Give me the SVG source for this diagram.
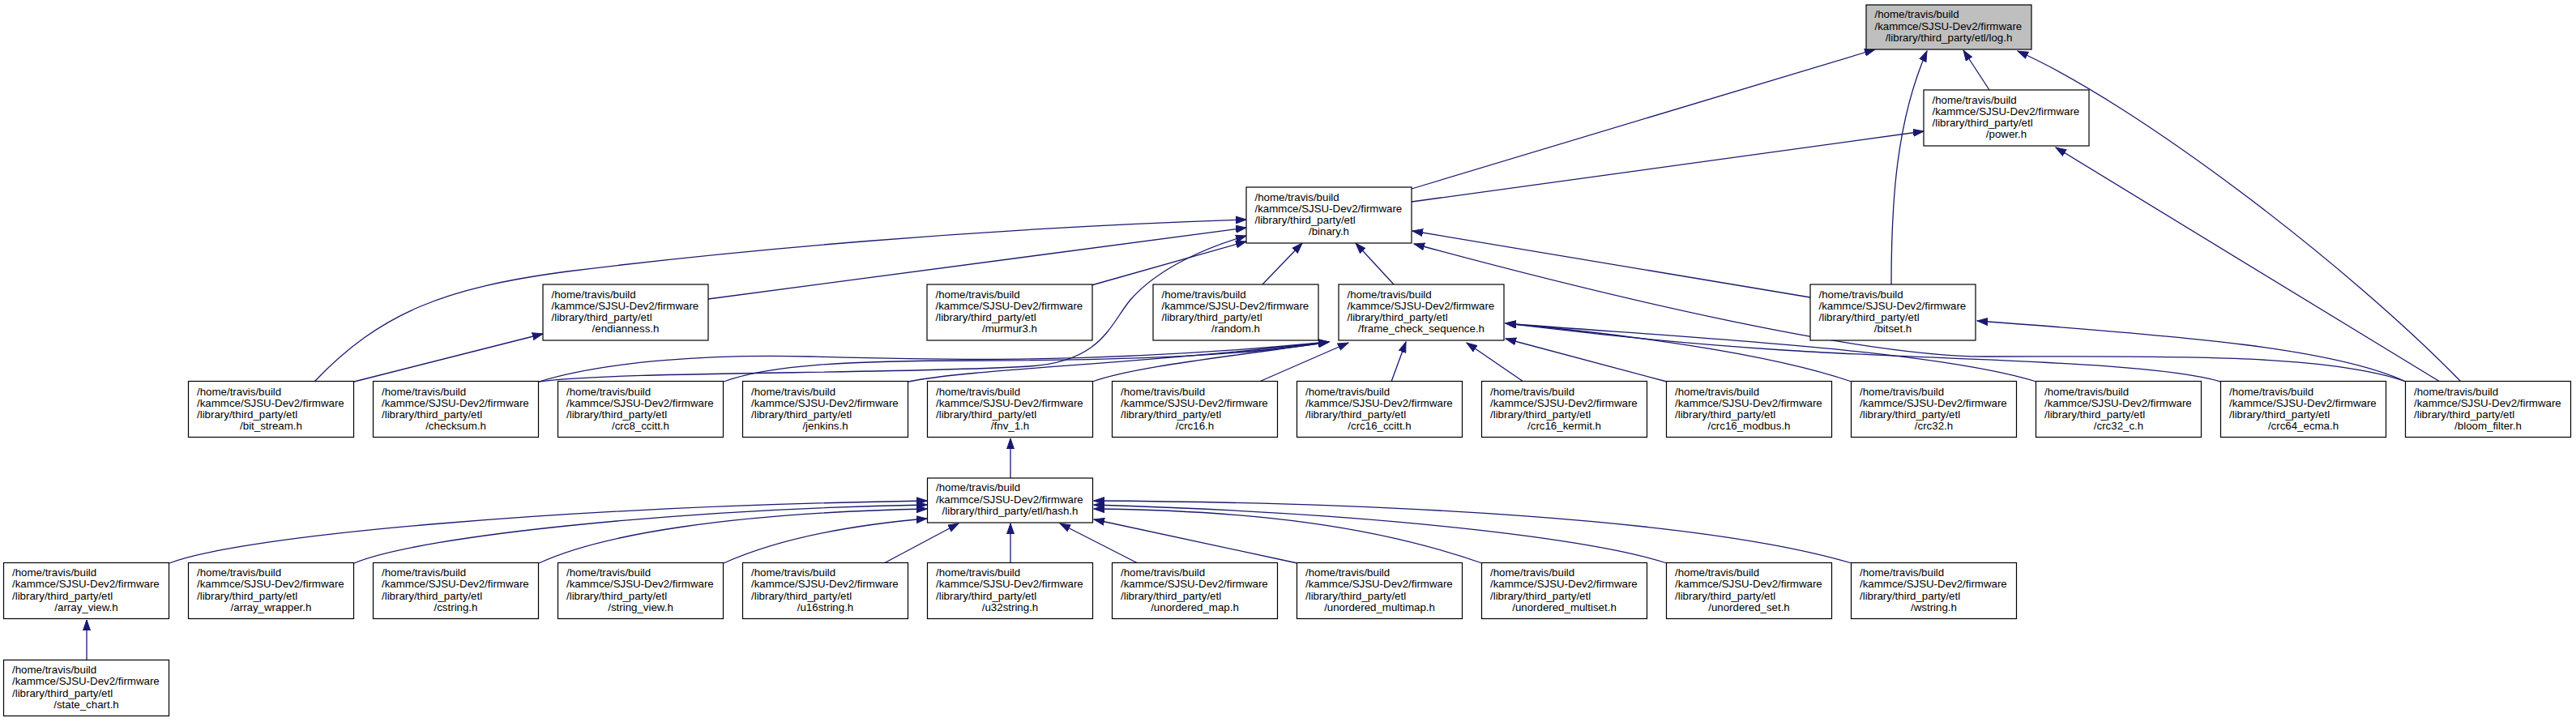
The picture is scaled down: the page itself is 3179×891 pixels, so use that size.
<svg xmlns="http://www.w3.org/2000/svg" width="3179" height="891" viewBox="0 0 3179 891">
<style>
.node rect{fill:#fff;stroke:#000;stroke-width:1.2}
.node.root rect{fill:#bfbfbf}
.node text{font-family:"Liberation Sans",Arial,Helvetica,sans-serif;font-size:13.3px;fill:#000}
.node text.c{text-anchor:middle}
.edge{fill:none;stroke:#191970;stroke-width:1.3;marker-end:url(#arr)}
</style>
<defs>
<marker id="arr" markerWidth="14" markerHeight="10" refX="13" refY="5" orient="auto" markerUnits="userSpaceOnUse"><path d="M0,0.5 L13,5 L0,9.5 Z" fill="#191970" stroke="#191970" stroke-width="1"/></marker>
</defs>
<rect width="3179" height="891" fill="#fff"/>
<g id="edges">
<path class="edge" d="M1742,233 L2314,61"/>
<path class="edge" d="M2455,111 L2423,62"/>
<path class="edge" d="M2334,351 C2334,250 2340,150 2378,63"/>
<path class="edge" d="M3037,471 C2900,330 2640,130 2490,63"/>
<path class="edge" d="M3011,471 L2537,182"/>
<path class="edge" d="M1742,249 L2374,162"/>
<path class="edge" d="M2234,367 L1743,285"/>
<path class="edge" d="M2969,471 C2870,435 2650,440 2450,440 C2300,440 2000,370 1745,301"/>
<path class="edge" d="M2969,471 C2880,430 2700,415 2440,396"/>
<path class="edge" d="M1558,351 L1607,300"/>
<path class="edge" d="M1720,351 L1673,300"/>
<path class="edge" d="M388,471 C470,385 550,355 700,335 C900,310 1200,282 1538,271"/>
<path class="edge" d="M437,471 L670,412"/>
<path class="edge" d="M874,369 L1538,281"/>
<path class="edge" d="M1347,352 L1538,298"/>
<path class="edge" d="M665,471 C760,458 1100,462 1271,452 C1360,446 1370,400 1395,370 C1430,330 1490,305 1538,291"/>
<path class="edge" d="M665,471 C750,445 880,437 1000,440 C1150,444 1350,450 1640,422"/>
<path class="edge" d="M893,471 C950,450 1050,445 1200,445 C1400,445 1550,437 1640,422"/>
<path class="edge" d="M1121,471 C1200,455 1400,450 1640,422"/>
<path class="edge" d="M1348,471 C1400,452 1520,440 1640,422"/>
<path class="edge" d="M1554,471 L1664,423"/>
<path class="edge" d="M1717,471 L1735,422"/>
<path class="edge" d="M1880,471 L1810,423"/>
<path class="edge" d="M2057,471 L1858,418"/>
<path class="edge" d="M2285,471 C2180,435 2000,412 1858,399"/>
<path class="edge" d="M2513,471 C2380,430 2050,415 1858,399"/>
<path class="edge" d="M2741,471 C2650,445 2400,445 2200,432 C2050,422 1950,410 1858,399"/>
<path class="edge" d="M1247,590 L1247,541"/>
<path class="edge" d="M107,814 L107,765"/>
<path class="edge" d="M209,695 C300,660 700,625 1144,618"/>
<path class="edge" d="M437,695 C520,660 850,628 1144,623"/>
<path class="edge" d="M665,695 C740,660 900,633 1144,628"/>
<path class="edge" d="M893,695 C960,665 1050,648 1144,640"/>
<path class="edge" d="M1091,695 L1183,646"/>
<path class="edge" d="M1247,695 L1247,646"/>
<path class="edge" d="M1404,695 L1308,646"/>
<path class="edge" d="M1601,695 L1350,641"/>
<path class="edge" d="M1829,695 C1700,650 1550,630 1350,628"/>
<path class="edge" d="M2057,695 C1980,670 1750,635 1350,623"/>
<path class="edge" d="M2285,695 C2100,640 1700,620 1350,618"/>
</g>
<g id="n_log" class="node root"><rect x="2303" y="6" width="204" height="55"/><text x="2313.5" y="22">/home/travis/build</text><text x="2313.5" y="36.5">/kammce/SJSU-Dev2/firmware</text><text class="c" x="2405" y="51">/library/third_party/etl/log.h</text></g>
<g id="n_power" class="node"><rect x="2374" y="111" width="204" height="69"/><text x="2384.5" y="127.5">/home/travis/build</text><text x="2384.5" y="141.8">/kammce/SJSU-Dev2/firmware</text><text x="2384.5" y="156.1">/library/third_party/etl</text><text class="c" x="2476" y="170.4">/power.h</text></g>
<g id="n_binary" class="node"><rect x="1538" y="231" width="204" height="69"/><text x="1548.5" y="247.5">/home/travis/build</text><text x="1548.5" y="261.8">/kammce/SJSU-Dev2/firmware</text><text x="1548.5" y="276.1">/library/third_party/etl</text><text class="c" x="1640" y="290.4">/binary.h</text></g>
<g id="n_endianness" class="node"><rect x="670" y="351" width="204" height="69"/><text x="680.5" y="367.5">/home/travis/build</text><text x="680.5" y="381.8">/kammce/SJSU-Dev2/firmware</text><text x="680.5" y="396.1">/library/third_party/etl</text><text class="c" x="772" y="410.4">/endianness.h</text></g>
<g id="n_murmur3" class="node"><rect x="1144" y="351" width="204" height="69"/><text x="1154.5" y="367.5">/home/travis/build</text><text x="1154.5" y="381.8">/kammce/SJSU-Dev2/firmware</text><text x="1154.5" y="396.1">/library/third_party/etl</text><text class="c" x="1246" y="410.4">/murmur3.h</text></g>
<g id="n_random" class="node"><rect x="1423" y="351" width="204" height="69"/><text x="1433.5" y="367.5">/home/travis/build</text><text x="1433.5" y="381.8">/kammce/SJSU-Dev2/firmware</text><text x="1433.5" y="396.1">/library/third_party/etl</text><text class="c" x="1525" y="410.4">/random.h</text></g>
<g id="n_fcs" class="node"><rect x="1652" y="351" width="204" height="69"/><text x="1662.5" y="367.5">/home/travis/build</text><text x="1662.5" y="381.8">/kammce/SJSU-Dev2/firmware</text><text x="1662.5" y="396.1">/library/third_party/etl</text><text class="c" x="1754" y="410.4">/frame_check_sequence.h</text></g>
<g id="n_bitset" class="node"><rect x="2234" y="351" width="204" height="69"/><text x="2244.5" y="367.5">/home/travis/build</text><text x="2244.5" y="381.8">/kammce/SJSU-Dev2/firmware</text><text x="2244.5" y="396.1">/library/third_party/etl</text><text class="c" x="2336" y="410.4">/bitset.h</text></g>
<g id="n_bit_stream" class="node"><rect x="232.5" y="470.5" width="204" height="69"/><text x="243" y="487.5">/home/travis/build</text><text x="243" y="501.8">/kammce/SJSU-Dev2/firmware</text><text x="243" y="516.1">/library/third_party/etl</text><text class="c" x="334.5" y="530.4">/bit_stream.h</text></g>
<g id="n_checksum" class="node"><rect x="460.5" y="470.5" width="204" height="69"/><text x="471" y="487.5">/home/travis/build</text><text x="471" y="501.8">/kammce/SJSU-Dev2/firmware</text><text x="471" y="516.1">/library/third_party/etl</text><text class="c" x="562.5" y="530.4">/checksum.h</text></g>
<g id="n_crc8_ccitt" class="node"><rect x="688.5" y="470.5" width="204" height="69"/><text x="699" y="487.5">/home/travis/build</text><text x="699" y="501.8">/kammce/SJSU-Dev2/firmware</text><text x="699" y="516.1">/library/third_party/etl</text><text class="c" x="790.5" y="530.4">/crc8_ccitt.h</text></g>
<g id="n_jenkins" class="node"><rect x="916.5" y="470.5" width="204" height="69"/><text x="927" y="487.5">/home/travis/build</text><text x="927" y="501.8">/kammce/SJSU-Dev2/firmware</text><text x="927" y="516.1">/library/third_party/etl</text><text class="c" x="1018.5" y="530.4">/jenkins.h</text></g>
<g id="n_fnv_1" class="node"><rect x="1144.5" y="470.5" width="204" height="69"/><text x="1155" y="487.5">/home/travis/build</text><text x="1155" y="501.8">/kammce/SJSU-Dev2/firmware</text><text x="1155" y="516.1">/library/third_party/etl</text><text class="c" x="1246.5" y="530.4">/fnv_1.h</text></g>
<g id="n_crc16" class="node"><rect x="1372.5" y="470.5" width="204" height="69"/><text x="1383" y="487.5">/home/travis/build</text><text x="1383" y="501.8">/kammce/SJSU-Dev2/firmware</text><text x="1383" y="516.1">/library/third_party/etl</text><text class="c" x="1474.5" y="530.4">/crc16.h</text></g>
<g id="n_crc16_ccitt" class="node"><rect x="1600.5" y="470.5" width="204" height="69"/><text x="1611" y="487.5">/home/travis/build</text><text x="1611" y="501.8">/kammce/SJSU-Dev2/firmware</text><text x="1611" y="516.1">/library/third_party/etl</text><text class="c" x="1702.5" y="530.4">/crc16_ccitt.h</text></g>
<g id="n_crc16_kermit" class="node"><rect x="1828.5" y="470.5" width="204" height="69"/><text x="1839" y="487.5">/home/travis/build</text><text x="1839" y="501.8">/kammce/SJSU-Dev2/firmware</text><text x="1839" y="516.1">/library/third_party/etl</text><text class="c" x="1930.5" y="530.4">/crc16_kermit.h</text></g>
<g id="n_crc16_modbus" class="node"><rect x="2056.5" y="470.5" width="204" height="69"/><text x="2067" y="487.5">/home/travis/build</text><text x="2067" y="501.8">/kammce/SJSU-Dev2/firmware</text><text x="2067" y="516.1">/library/third_party/etl</text><text class="c" x="2158.5" y="530.4">/crc16_modbus.h</text></g>
<g id="n_crc32" class="node"><rect x="2284.5" y="470.5" width="204" height="69"/><text x="2295" y="487.5">/home/travis/build</text><text x="2295" y="501.8">/kammce/SJSU-Dev2/firmware</text><text x="2295" y="516.1">/library/third_party/etl</text><text class="c" x="2386.5" y="530.4">/crc32.h</text></g>
<g id="n_crc32_c" class="node"><rect x="2512.5" y="470.5" width="204" height="69"/><text x="2523" y="487.5">/home/travis/build</text><text x="2523" y="501.8">/kammce/SJSU-Dev2/firmware</text><text x="2523" y="516.1">/library/third_party/etl</text><text class="c" x="2614.5" y="530.4">/crc32_c.h</text></g>
<g id="n_crc64_ecma" class="node"><rect x="2740.5" y="470.5" width="204" height="69"/><text x="2751" y="487.5">/home/travis/build</text><text x="2751" y="501.8">/kammce/SJSU-Dev2/firmware</text><text x="2751" y="516.1">/library/third_party/etl</text><text class="c" x="2842.5" y="530.4">/crc64_ecma.h</text></g>
<g id="n_bloom_filter" class="node"><rect x="2968.5" y="470.5" width="204" height="69"/><text x="2979" y="487.5">/home/travis/build</text><text x="2979" y="501.8">/kammce/SJSU-Dev2/firmware</text><text x="2979" y="516.1">/library/third_party/etl</text><text class="c" x="3070.5" y="530.4">/bloom_filter.h</text></g>
<g id="n_hash" class="node"><rect x="1144.5" y="590" width="204" height="55"/><text x="1155" y="606">/home/travis/build</text><text x="1155" y="620.5">/kammce/SJSU-Dev2/firmware</text><text class="c" x="1246.5" y="635">/library/third_party/etl/hash.h</text></g>
<g id="n_array_view" class="node"><rect x="4.5" y="694.5" width="204" height="69"/><text x="15" y="711">/home/travis/build</text><text x="15" y="725.3">/kammce/SJSU-Dev2/firmware</text><text x="15" y="739.6">/library/third_party/etl</text><text class="c" x="106.5" y="753.9">/array_view.h</text></g>
<g id="n_array_wrapper" class="node"><rect x="232.5" y="694.5" width="204" height="69"/><text x="243" y="711">/home/travis/build</text><text x="243" y="725.3">/kammce/SJSU-Dev2/firmware</text><text x="243" y="739.6">/library/third_party/etl</text><text class="c" x="334.5" y="753.9">/array_wrapper.h</text></g>
<g id="n_cstring" class="node"><rect x="460.5" y="694.5" width="204" height="69"/><text x="471" y="711">/home/travis/build</text><text x="471" y="725.3">/kammce/SJSU-Dev2/firmware</text><text x="471" y="739.6">/library/third_party/etl</text><text class="c" x="562.5" y="753.9">/cstring.h</text></g>
<g id="n_string_view" class="node"><rect x="688.5" y="694.5" width="204" height="69"/><text x="699" y="711">/home/travis/build</text><text x="699" y="725.3">/kammce/SJSU-Dev2/firmware</text><text x="699" y="739.6">/library/third_party/etl</text><text class="c" x="790.5" y="753.9">/string_view.h</text></g>
<g id="n_u16string" class="node"><rect x="916.5" y="694.5" width="204" height="69"/><text x="927" y="711">/home/travis/build</text><text x="927" y="725.3">/kammce/SJSU-Dev2/firmware</text><text x="927" y="739.6">/library/third_party/etl</text><text class="c" x="1018.5" y="753.9">/u16string.h</text></g>
<g id="n_u32string" class="node"><rect x="1144.5" y="694.5" width="204" height="69"/><text x="1155" y="711">/home/travis/build</text><text x="1155" y="725.3">/kammce/SJSU-Dev2/firmware</text><text x="1155" y="739.6">/library/third_party/etl</text><text class="c" x="1246.5" y="753.9">/u32string.h</text></g>
<g id="n_unordered_map" class="node"><rect x="1372.5" y="694.5" width="204" height="69"/><text x="1383" y="711">/home/travis/build</text><text x="1383" y="725.3">/kammce/SJSU-Dev2/firmware</text><text x="1383" y="739.6">/library/third_party/etl</text><text class="c" x="1474.5" y="753.9">/unordered_map.h</text></g>
<g id="n_unordered_multimap" class="node"><rect x="1600.5" y="694.5" width="204" height="69"/><text x="1611" y="711">/home/travis/build</text><text x="1611" y="725.3">/kammce/SJSU-Dev2/firmware</text><text x="1611" y="739.6">/library/third_party/etl</text><text class="c" x="1702.5" y="753.9">/unordered_multimap.h</text></g>
<g id="n_unordered_multiset" class="node"><rect x="1828.5" y="694.5" width="204" height="69"/><text x="1839" y="711">/home/travis/build</text><text x="1839" y="725.3">/kammce/SJSU-Dev2/firmware</text><text x="1839" y="739.6">/library/third_party/etl</text><text class="c" x="1930.5" y="753.9">/unordered_multiset.h</text></g>
<g id="n_unordered_set" class="node"><rect x="2056.5" y="694.5" width="204" height="69"/><text x="2067" y="711">/home/travis/build</text><text x="2067" y="725.3">/kammce/SJSU-Dev2/firmware</text><text x="2067" y="739.6">/library/third_party/etl</text><text class="c" x="2158.5" y="753.9">/unordered_set.h</text></g>
<g id="n_wstring" class="node"><rect x="2284.5" y="694.5" width="204" height="69"/><text x="2295" y="711">/home/travis/build</text><text x="2295" y="725.3">/kammce/SJSU-Dev2/firmware</text><text x="2295" y="739.6">/library/third_party/etl</text><text class="c" x="2386.5" y="753.9">/wstring.h</text></g>
<g id="n_state_chart" class="node"><rect x="4.5" y="814.5" width="204" height="69"/><text x="15" y="831">/home/travis/build</text><text x="15" y="845.3">/kammce/SJSU-Dev2/firmware</text><text x="15" y="859.6">/library/third_party/etl</text><text class="c" x="106.5" y="873.9">/state_chart.h</text></g>
</svg>
